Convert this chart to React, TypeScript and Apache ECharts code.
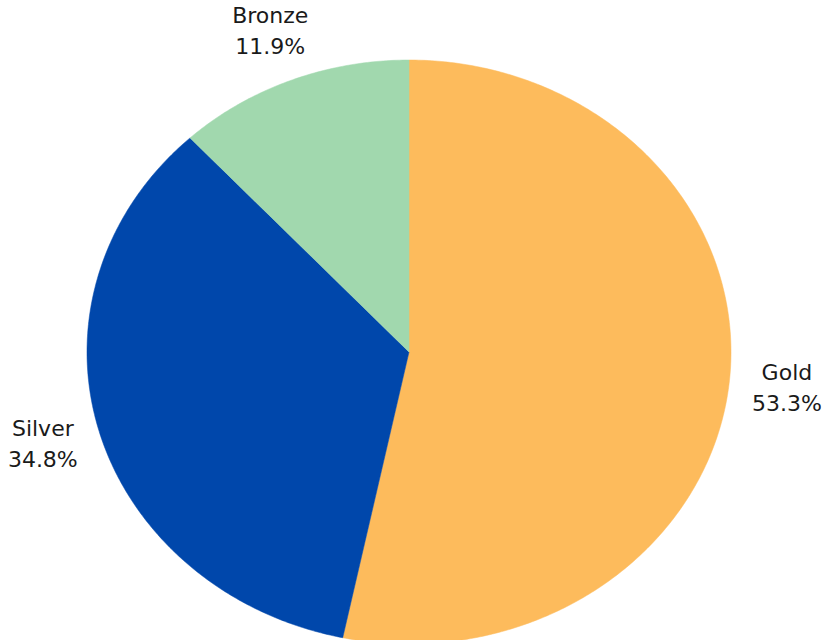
import React, { useEffect, useRef } from "react";
import * as echarts from "echarts";

const categories = ["Gold", "Silver", "Bronze"];
const values = [53.3, 34.8, 11.9];
const colors = ["#FDBB5C", "#0047AB", "#A1D8AE"];

export default function App() {
  const ref = useRef<HTMLDivElement>(null);
  useEffect(() => {
    if (!ref.current) return;
    const chart = echarts.init(ref.current, undefined, { renderer: "svg" });
    const total = values.reduce((a, b) => a + b, 0);
    const data = categories.map((name, i) => ({ name, value: values[i] }));
    chart.setOption({
      animation: false,
      backgroundColor: "#ffffff",
      series: [
        {
          type: "custom",
          coordinateSystem: "none",
          data: data.map((d) => d.value),
          renderItem: (params: any, api: any) => {
            const idx = params.dataIndex;
            const cx = 409;
            const cy = 352;
            const rx = 322;
            const ry = 292;
            let before = 0;
            for (let i = 0; i < idx; i++) before += values[i];
            const a0 = (before / total) * Math.PI * 2;
            const a1 = ((before + values[idx]) / total) * Math.PI * 2;
            const pts: number[][] = [[cx, cy]];
            const steps = Math.max(8, Math.ceil((a1 - a0) / 0.01));
            for (let s = 0; s <= steps; s++) {
              const a = a0 + ((a1 - a0) * s) / steps;
              pts.push([cx + rx * Math.sin(a), cy - ry * Math.cos(a)]);
            }
            const mid = (a0 + a1) / 2;
            const k = 1.18;
            const lx = cx + rx * k * Math.sin(mid);
            const ly = cy - ry * k * Math.cos(mid);
            return {
              type: "group",
              children: [
                {
                  type: "polygon",
                  shape: { points: pts },
                  style: { fill: colors[idx], stroke: colors[idx], lineWidth: 0.5 },
                },
                {
                  type: "text",
                  x: lx,
                  y: ly,
                  style: {
                    text: categories[idx] + "\n" + values[idx].toFixed(1) + "%",
                    fill: "#1a1a1a",
                    font: "22px 'DejaVu Sans', sans-serif",
                    lineHeight: 31,
                    align: "center",
                    verticalAlign: "middle",
                  },
                },
              ],
            };
          },
        },
      ],
    });
    return () => chart.dispose();
  }, []);
  return (
    <div
      ref={ref}
      style={{ position: "fixed", left: 0, top: 0, width: 822, height: 640 }}
    />
  );
}
